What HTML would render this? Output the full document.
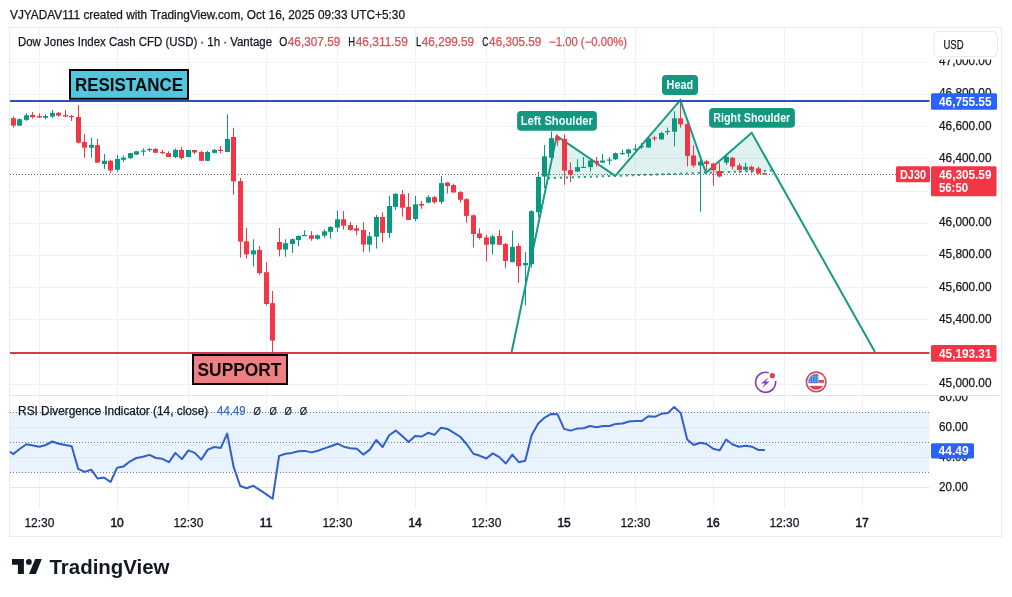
<!DOCTYPE html><html><head><meta charset="utf-8"><style>
html,body{margin:0;padding:0;background:#fff;width:1012px;height:597px;overflow:hidden}
svg{position:absolute;left:0;top:0;display:block;will-change:transform}
text{font-family:"Liberation Sans", sans-serif}

</style></head><body>
<svg width="1012" height="597" viewBox="0 0 1012 597">
<rect x="0" y="0" width="1012" height="597" fill="#fff"/>

<text x="10" y="19" font-size="12" fill="#131722" stroke="#131722" stroke-width="0.25" textLength="395" lengthAdjust="spacingAndGlyphs">VJYADAV111 created with TradingView.com, Oct 16, 2025 09:33 UTC+5:30</text>
<rect x="9.5" y="27.5" width="992" height="509" fill="none" stroke="#eaebed" stroke-width="1"/>
<rect x="10" y="412.3" width="919.5" height="60.3" fill="#e9f3fd"/>
<line x1="39.5" y1="28" x2="39.5" y2="509" stroke="#eff1f4" stroke-width="1"/>
<line x1="117.5" y1="28" x2="117.5" y2="509" stroke="#eff1f4" stroke-width="1"/>
<line x1="188.5" y1="28" x2="188.5" y2="509" stroke="#eff1f4" stroke-width="1"/>
<line x1="266.5" y1="28" x2="266.5" y2="509" stroke="#eff1f4" stroke-width="1"/>
<line x1="337.5" y1="28" x2="337.5" y2="509" stroke="#eff1f4" stroke-width="1"/>
<line x1="415.5" y1="28" x2="415.5" y2="509" stroke="#eff1f4" stroke-width="1"/>
<line x1="486.5" y1="28" x2="486.5" y2="509" stroke="#eff1f4" stroke-width="1"/>
<line x1="564.5" y1="28" x2="564.5" y2="509" stroke="#eff1f4" stroke-width="1"/>
<line x1="635.5" y1="28" x2="635.5" y2="509" stroke="#eff1f4" stroke-width="1"/>
<line x1="713.5" y1="28" x2="713.5" y2="509" stroke="#eff1f4" stroke-width="1"/>
<line x1="784.5" y1="28" x2="784.5" y2="509" stroke="#eff1f4" stroke-width="1"/>
<line x1="862.5" y1="28" x2="862.5" y2="509" stroke="#eff1f4" stroke-width="1"/>
<line x1="10" y1="384.5" x2="929.5" y2="384.5" stroke="#eff1f4" stroke-width="1"/>
<line x1="10" y1="352.5" x2="929.5" y2="352.5" stroke="#eff1f4" stroke-width="1"/>
<line x1="10" y1="319.5" x2="929.5" y2="319.5" stroke="#eff1f4" stroke-width="1"/>
<line x1="10" y1="287.5" x2="929.5" y2="287.5" stroke="#eff1f4" stroke-width="1"/>
<line x1="10" y1="255.5" x2="929.5" y2="255.5" stroke="#eff1f4" stroke-width="1"/>
<line x1="10" y1="223.5" x2="929.5" y2="223.5" stroke="#eff1f4" stroke-width="1"/>
<line x1="10" y1="191.5" x2="929.5" y2="191.5" stroke="#eff1f4" stroke-width="1"/>
<line x1="10" y1="158.5" x2="929.5" y2="158.5" stroke="#eff1f4" stroke-width="1"/>
<line x1="10" y1="126.5" x2="929.5" y2="126.5" stroke="#eff1f4" stroke-width="1"/>
<line x1="10" y1="94.5" x2="929.5" y2="94.5" stroke="#eff1f4" stroke-width="1"/>
<line x1="10" y1="62.5" x2="929.5" y2="62.5" stroke="#eff1f4" stroke-width="1"/>
<line x1="10" y1="427.5" x2="929.5" y2="427.5" stroke="#e3e8f0" stroke-width="1"/>
<line x1="10" y1="457.5" x2="929.5" y2="457.5" stroke="#e3e8f0" stroke-width="1"/>
<line x1="10" y1="487.5" x2="929.5" y2="487.5" stroke="#e3e8f0" stroke-width="1"/>
<line x1="10" y1="412.5" x2="929.5" y2="412.5" stroke="#787b86" stroke-width="1" stroke-dasharray="1 2"/>
<line x1="10" y1="442.5" x2="929.5" y2="442.5" stroke="#787b86" stroke-width="1" stroke-dasharray="1 2"/>
<line x1="10" y1="472.5" x2="929.5" y2="472.5" stroke="#787b86" stroke-width="1" stroke-dasharray="1 2"/>
<line x1="10" y1="395.5" x2="1001" y2="395.5" stroke="#e0e3eb" stroke-width="1"/>
<line x1="10" y1="174.5" x2="929.5" y2="174.5" stroke="#6b5d63" stroke-width="1" stroke-dasharray="1 2"/>
<polygon points="547.9,178.2 556.7,135.9 615.2,175.9 680.3,100.2 706.0,172.8 751.7,132.8 772.9,170.5" fill="rgba(8,153,129,0.13)"/>
<line x1="547.9" y1="178.2" x2="772.9" y2="170.5" stroke="#1a9a82" stroke-width="2" stroke-dasharray="2 4" />
<polyline points="511.4,353.2 556.7,135.9 615.2,175.9 680.3,100.2 706.0,172.8 751.7,132.8 875.0,352.0" fill="none" stroke="#1a9a82" stroke-width="2" stroke-linejoin="miter"/>
<rect x="13" y="116.4" width="1" height="11.1" fill="#f23645"/>
<rect x="11" y="118.2" width="5" height="7.4" fill="#f23645"/>
<rect x="19" y="118.5" width="1" height="7.5" fill="#089981"/>
<rect x="17" y="119.2" width="5" height="6.4" fill="#089981"/>
<rect x="26" y="113.2" width="1" height="7.7" fill="#089981"/>
<rect x="24" y="115.2" width="5" height="4.7" fill="#089981"/>
<rect x="32" y="112.1" width="1" height="6.4" fill="#f23645"/>
<rect x="30" y="114.9" width="5" height="2.2" fill="#f23645"/>
<rect x="39" y="113.2" width="1" height="4.6" fill="#f23645"/>
<rect x="37" y="116.0" width="5" height="1.5" fill="#f23645"/>
<rect x="45" y="114.2" width="1" height="5.3" fill="#089981"/>
<rect x="43" y="116.0" width="5" height="1.8" fill="#089981"/>
<rect x="52" y="110.0" width="1" height="7.8" fill="#089981"/>
<rect x="50" y="112.8" width="5" height="3.8" fill="#089981"/>
<rect x="58" y="112.0" width="1" height="4.6" fill="#f23645"/>
<rect x="56" y="112.8" width="5" height="2.8" fill="#f23645"/>
<rect x="65" y="110.0" width="1" height="6.6" fill="#f23645"/>
<rect x="63" y="115.2" width="5" height="1.4" fill="#f23645"/>
<rect x="71" y="115.0" width="1" height="6.0" fill="#f23645"/>
<rect x="69" y="116.0" width="5" height="1.2" fill="#f23645"/>
<rect x="78" y="105.0" width="1" height="38.4" fill="#f23645"/>
<rect x="76" y="117.0" width="5" height="25.7" fill="#f23645"/>
<rect x="84" y="134.2" width="1" height="23.5" fill="#f23645"/>
<rect x="82" y="142.0" width="5" height="5.7" fill="#f23645"/>
<rect x="91" y="137.7" width="1" height="20.0" fill="#089981"/>
<rect x="89" y="144.8" width="5" height="2.9" fill="#089981"/>
<rect x="97" y="139.0" width="1" height="23.6" fill="#f23645"/>
<rect x="95" y="145.1" width="5" height="17.5" fill="#f23645"/>
<rect x="104" y="154.0" width="1" height="15.0" fill="#089981"/>
<rect x="102" y="160.8" width="5" height="3.2" fill="#089981"/>
<rect x="110" y="159.8" width="1" height="13.5" fill="#f23645"/>
<rect x="108" y="160.8" width="5" height="9.7" fill="#f23645"/>
<rect x="117" y="154.8" width="1" height="17.1" fill="#089981"/>
<rect x="115" y="159.0" width="5" height="10.8" fill="#089981"/>
<rect x="123" y="155.5" width="1" height="6.5" fill="#089981"/>
<rect x="121" y="157.6" width="5" height="2.2" fill="#089981"/>
<rect x="130" y="152.8" width="1" height="6.0" fill="#089981"/>
<rect x="128" y="153.1" width="5" height="5.0" fill="#089981"/>
<rect x="136" y="151.0" width="1" height="4.0" fill="#089981"/>
<rect x="134" y="151.3" width="5" height="3.3" fill="#089981"/>
<rect x="143" y="148.3" width="1" height="7.5" fill="#089981"/>
<rect x="141" y="150.5" width="5" height="1.2" fill="#089981"/>
<rect x="149" y="148.0" width="1" height="4.0" fill="#089981"/>
<rect x="147" y="149.0" width="5" height="1.2" fill="#089981"/>
<rect x="155" y="148.0" width="1" height="4.8" fill="#f23645"/>
<rect x="153" y="149.0" width="5" height="3.8" fill="#f23645"/>
<rect x="162" y="149.8" width="1" height="4.5" fill="#f23645"/>
<rect x="160" y="152.0" width="5" height="1.2" fill="#f23645"/>
<rect x="168" y="151.3" width="1" height="5.7" fill="#f23645"/>
<rect x="166" y="153.1" width="5" height="3.9" fill="#f23645"/>
<rect x="175" y="148.6" width="1" height="9.5" fill="#089981"/>
<rect x="173" y="149.8" width="5" height="7.2" fill="#089981"/>
<rect x="181" y="147.0" width="1" height="12.6" fill="#f23645"/>
<rect x="179" y="149.8" width="5" height="8.3" fill="#f23645"/>
<rect x="188" y="150.0" width="1" height="7.5" fill="#089981"/>
<rect x="186" y="150.0" width="5" height="7.0" fill="#089981"/>
<rect x="194" y="150.0" width="1" height="4.0" fill="#f23645"/>
<rect x="192" y="150.0" width="5" height="2.5" fill="#f23645"/>
<rect x="201" y="150.5" width="1" height="10.5" fill="#f23645"/>
<rect x="199" y="152.0" width="5" height="8.8" fill="#f23645"/>
<rect x="207" y="151.0" width="1" height="10.0" fill="#089981"/>
<rect x="205" y="152.0" width="5" height="8.8" fill="#089981"/>
<rect x="214" y="149.0" width="1" height="4.5" fill="#089981"/>
<rect x="212" y="149.8" width="5" height="3.0" fill="#089981"/>
<rect x="220" y="146.0" width="1" height="7.5" fill="#f23645"/>
<rect x="218" y="149.8" width="5" height="1.2" fill="#f23645"/>
<rect x="227" y="114.3" width="1" height="37.7" fill="#089981"/>
<rect x="225" y="138.9" width="5" height="13.1" fill="#089981"/>
<rect x="233" y="127.9" width="1" height="66.8" fill="#f23645"/>
<rect x="231" y="137.0" width="5" height="44.4" fill="#f23645"/>
<rect x="240" y="178.0" width="1" height="79.5" fill="#f23645"/>
<rect x="238" y="181.1" width="5" height="60.5" fill="#f23645"/>
<rect x="246" y="228.0" width="1" height="30.3" fill="#f23645"/>
<rect x="244" y="241.3" width="5" height="13.1" fill="#f23645"/>
<rect x="253" y="239.2" width="1" height="27.4" fill="#089981"/>
<rect x="251" y="250.4" width="5" height="4.0" fill="#089981"/>
<rect x="259" y="246.2" width="1" height="28.5" fill="#f23645"/>
<rect x="257" y="250.0" width="5" height="23.1" fill="#f23645"/>
<rect x="266" y="262.2" width="1" height="43.3" fill="#f23645"/>
<rect x="264" y="272.2" width="5" height="31.8" fill="#f23645"/>
<rect x="272" y="291.0" width="1" height="61.7" fill="#f23645"/>
<rect x="270" y="303.2" width="5" height="37.4" fill="#f23645"/>
<rect x="279" y="228.0" width="1" height="28.4" fill="#f23645"/>
<rect x="277" y="242.0" width="5" height="7.6" fill="#f23645"/>
<rect x="285" y="239.2" width="1" height="17.5" fill="#089981"/>
<rect x="283" y="243.2" width="5" height="6.4" fill="#089981"/>
<rect x="292" y="238.4" width="1" height="14.4" fill="#089981"/>
<rect x="290" y="239.2" width="5" height="4.8" fill="#089981"/>
<rect x="298" y="235.3" width="1" height="11.1" fill="#089981"/>
<rect x="296" y="236.0" width="5" height="4.0" fill="#089981"/>
<rect x="304" y="230.2" width="1" height="5.4" fill="#089981"/>
<rect x="302" y="235.0" width="5" height="1.2" fill="#089981"/>
<rect x="311" y="231.3" width="1" height="9.5" fill="#f23645"/>
<rect x="309" y="235.3" width="5" height="3.5" fill="#f23645"/>
<rect x="317" y="234.5" width="1" height="5.2" fill="#089981"/>
<rect x="315" y="235.3" width="5" height="3.5" fill="#089981"/>
<rect x="324" y="229.2" width="1" height="8.4" fill="#089981"/>
<rect x="322" y="231.3" width="5" height="4.3" fill="#089981"/>
<rect x="330" y="226.0" width="1" height="12.8" fill="#089981"/>
<rect x="328" y="227.0" width="5" height="4.8" fill="#089981"/>
<rect x="337" y="210.6" width="1" height="21.2" fill="#089981"/>
<rect x="335" y="219.3" width="5" height="8.3" fill="#089981"/>
<rect x="343" y="211.0" width="1" height="18.6" fill="#f23645"/>
<rect x="341" y="219.3" width="5" height="6.4" fill="#f23645"/>
<rect x="350" y="222.0" width="1" height="8.7" fill="#f23645"/>
<rect x="348" y="225.0" width="5" height="5.0" fill="#f23645"/>
<rect x="356" y="225.0" width="1" height="10.4" fill="#f23645"/>
<rect x="354" y="228.3" width="5" height="2.4" fill="#f23645"/>
<rect x="363" y="222.3" width="1" height="29.8" fill="#f23645"/>
<rect x="361" y="230.0" width="5" height="14.6" fill="#f23645"/>
<rect x="369" y="232.0" width="1" height="19.8" fill="#089981"/>
<rect x="367" y="236.2" width="5" height="8.4" fill="#089981"/>
<rect x="376" y="215.0" width="1" height="33.5" fill="#089981"/>
<rect x="374" y="217.0" width="5" height="19.7" fill="#089981"/>
<rect x="382" y="212.3" width="1" height="30.1" fill="#f23645"/>
<rect x="380" y="217.0" width="5" height="15.9" fill="#f23645"/>
<rect x="389" y="196.0" width="1" height="41.9" fill="#089981"/>
<rect x="387" y="206.0" width="5" height="26.9" fill="#089981"/>
<rect x="395" y="193.2" width="1" height="16.8" fill="#089981"/>
<rect x="393" y="193.8" width="5" height="13.1" fill="#089981"/>
<rect x="402" y="190.1" width="1" height="26.5" fill="#f23645"/>
<rect x="400" y="194.3" width="5" height="13.4" fill="#f23645"/>
<rect x="408" y="193.2" width="1" height="26.8" fill="#f23645"/>
<rect x="406" y="206.9" width="5" height="13.1" fill="#f23645"/>
<rect x="415" y="196.0" width="1" height="25.1" fill="#089981"/>
<rect x="413" y="204.4" width="5" height="14.6" fill="#089981"/>
<rect x="421" y="201.0" width="1" height="7.9" fill="#f23645"/>
<rect x="419" y="203.9" width="5" height="1.7" fill="#f23645"/>
<rect x="428" y="195.2" width="1" height="8.0" fill="#089981"/>
<rect x="426" y="197.2" width="5" height="5.5" fill="#089981"/>
<rect x="434" y="196.0" width="1" height="7.9" fill="#f23645"/>
<rect x="432" y="197.2" width="5" height="5.0" fill="#f23645"/>
<rect x="441" y="175.9" width="1" height="28.0" fill="#089981"/>
<rect x="439" y="183.1" width="5" height="18.8" fill="#089981"/>
<rect x="447" y="181.8" width="1" height="11.8" fill="#f23645"/>
<rect x="445" y="182.6" width="5" height="3.4" fill="#f23645"/>
<rect x="453" y="183.7" width="1" height="8.8" fill="#f23645"/>
<rect x="451" y="185.1" width="5" height="7.4" fill="#f23645"/>
<rect x="460" y="191.1" width="1" height="11.5" fill="#f23645"/>
<rect x="458" y="192.1" width="5" height="7.7" fill="#f23645"/>
<rect x="466" y="198.2" width="1" height="24.5" fill="#f23645"/>
<rect x="464" y="199.2" width="5" height="16.7" fill="#f23645"/>
<rect x="473" y="214.3" width="1" height="33.2" fill="#f23645"/>
<rect x="471" y="215.3" width="5" height="18.7" fill="#f23645"/>
<rect x="479" y="228.4" width="1" height="11.0" fill="#f23645"/>
<rect x="477" y="233.4" width="5" height="4.6" fill="#f23645"/>
<rect x="486" y="234.8" width="1" height="26.7" fill="#f23645"/>
<rect x="484" y="237.4" width="5" height="7.4" fill="#f23645"/>
<rect x="492" y="234.8" width="1" height="19.7" fill="#089981"/>
<rect x="490" y="236.4" width="5" height="8.0" fill="#089981"/>
<rect x="499" y="230.0" width="1" height="14.8" fill="#f23645"/>
<rect x="497" y="236.0" width="5" height="8.8" fill="#f23645"/>
<rect x="505" y="242.8" width="1" height="25.4" fill="#f23645"/>
<rect x="503" y="244.0" width="5" height="17.0" fill="#f23645"/>
<rect x="512" y="230.8" width="1" height="31.4" fill="#089981"/>
<rect x="510" y="246.9" width="5" height="15.3" fill="#089981"/>
<rect x="518" y="243.4" width="1" height="39.6" fill="#f23645"/>
<rect x="516" y="246.0" width="5" height="20.2" fill="#f23645"/>
<rect x="525" y="251.8" width="1" height="53.4" fill="#089981"/>
<rect x="523" y="263.0" width="5" height="2.3" fill="#089981"/>
<rect x="531" y="210.2" width="1" height="57.4" fill="#089981"/>
<rect x="529" y="211.2" width="5" height="53.0" fill="#089981"/>
<rect x="538" y="172.0" width="1" height="45.3" fill="#089981"/>
<rect x="536" y="177.0" width="5" height="35.3" fill="#089981"/>
<rect x="544" y="145.0" width="1" height="43.0" fill="#089981"/>
<rect x="542" y="156.3" width="5" height="20.3" fill="#089981"/>
<rect x="551" y="131.4" width="1" height="27.1" fill="#089981"/>
<rect x="549" y="138.2" width="5" height="19.6" fill="#089981"/>
<rect x="557" y="134.4" width="1" height="11.3" fill="#f23645"/>
<rect x="555" y="136.7" width="5" height="3.7" fill="#f23645"/>
<rect x="564" y="134.4" width="1" height="50.5" fill="#f23645"/>
<rect x="562" y="138.9" width="5" height="31.7" fill="#f23645"/>
<rect x="570" y="162.3" width="1" height="19.6" fill="#f23645"/>
<rect x="568" y="170.1" width="5" height="4.3" fill="#f23645"/>
<rect x="577" y="159.3" width="1" height="12.8" fill="#089981"/>
<rect x="575" y="167.1" width="5" height="4.5" fill="#089981"/>
<rect x="583" y="157.0" width="1" height="10.6" fill="#089981"/>
<rect x="581" y="166.8" width="5" height="1.2" fill="#089981"/>
<rect x="590" y="160.0" width="1" height="11.3" fill="#089981"/>
<rect x="588" y="160.5" width="5" height="6.6" fill="#089981"/>
<rect x="596" y="157.0" width="1" height="9.8" fill="#f23645"/>
<rect x="594" y="160.8" width="5" height="2.2" fill="#f23645"/>
<rect x="602" y="154.0" width="1" height="9.0" fill="#089981"/>
<rect x="600" y="160.5" width="5" height="2.1" fill="#089981"/>
<rect x="609" y="157.0" width="1" height="8.0" fill="#089981"/>
<rect x="607" y="159.5" width="5" height="1.2" fill="#089981"/>
<rect x="615" y="152.5" width="1" height="7.5" fill="#089981"/>
<rect x="613" y="153.2" width="5" height="6.1" fill="#089981"/>
<rect x="622" y="149.5" width="1" height="5.2" fill="#089981"/>
<rect x="620" y="153.0" width="5" height="1.2" fill="#089981"/>
<rect x="628" y="148.7" width="1" height="8.3" fill="#089981"/>
<rect x="626" y="149.5" width="5" height="4.0" fill="#089981"/>
<rect x="635" y="144.5" width="1" height="6.5" fill="#089981"/>
<rect x="633" y="148.7" width="5" height="1.3" fill="#089981"/>
<rect x="641" y="143.0" width="1" height="6.0" fill="#089981"/>
<rect x="639" y="146.0" width="5" height="1.2" fill="#089981"/>
<rect x="648" y="137.7" width="1" height="10.0" fill="#089981"/>
<rect x="646" y="138.4" width="5" height="9.1" fill="#089981"/>
<rect x="654" y="135.7" width="1" height="5.3" fill="#f23645"/>
<rect x="652" y="137.5" width="5" height="1.2" fill="#f23645"/>
<rect x="661" y="131.7" width="1" height="8.0" fill="#089981"/>
<rect x="659" y="133.0" width="5" height="6.4" fill="#089981"/>
<rect x="667" y="127.6" width="1" height="7.4" fill="#089981"/>
<rect x="665" y="131.0" width="5" height="1.2" fill="#089981"/>
<rect x="674" y="111.3" width="1" height="35.1" fill="#089981"/>
<rect x="672" y="118.3" width="5" height="13.4" fill="#089981"/>
<rect x="680" y="102.2" width="1" height="25.4" fill="#f23645"/>
<rect x="678" y="118.3" width="5" height="6.0" fill="#f23645"/>
<rect x="687" y="123.1" width="1" height="43.4" fill="#f23645"/>
<rect x="685" y="124.1" width="5" height="31.8" fill="#f23645"/>
<rect x="693" y="145.3" width="1" height="22.1" fill="#f23645"/>
<rect x="691" y="155.5" width="5" height="10.0" fill="#f23645"/>
<rect x="700" y="159.7" width="1" height="52.1" fill="#089981"/>
<rect x="698" y="161.7" width="5" height="3.8" fill="#089981"/>
<rect x="706" y="159.7" width="1" height="10.6" fill="#f23645"/>
<rect x="704" y="161.3" width="5" height="2.7" fill="#f23645"/>
<rect x="713" y="162.6" width="1" height="23.1" fill="#f23645"/>
<rect x="711" y="163.6" width="5" height="6.7" fill="#f23645"/>
<rect x="719" y="162.6" width="1" height="14.9" fill="#f23645"/>
<rect x="717" y="170.9" width="5" height="5.6" fill="#f23645"/>
<rect x="726" y="154.0" width="1" height="11.0" fill="#089981"/>
<rect x="724" y="156.8" width="5" height="5.8" fill="#089981"/>
<rect x="732" y="156.8" width="1" height="12.6" fill="#f23645"/>
<rect x="730" y="157.8" width="5" height="8.7" fill="#f23645"/>
<rect x="739" y="163.2" width="1" height="9.6" fill="#f23645"/>
<rect x="737" y="165.5" width="5" height="4.5" fill="#f23645"/>
<rect x="745" y="162.7" width="1" height="8.8" fill="#089981"/>
<rect x="743" y="166.8" width="5" height="2.9" fill="#089981"/>
<rect x="751" y="165.5" width="1" height="7.7" fill="#f23645"/>
<rect x="749" y="166.8" width="5" height="3.3" fill="#f23645"/>
<rect x="758" y="166.5" width="1" height="7.7" fill="#f23645"/>
<rect x="756" y="168.4" width="5" height="5.2" fill="#f23645"/>
<rect x="764" y="172.6" width="1" height="1.9" fill="#f23645"/>
<rect x="762" y="173.2" width="5" height="1.2" fill="#f23645"/>
<rect x="70" y="70" width="118" height="28.8" fill="#52c6dc" stroke="#000" stroke-width="2"/>
<text x="75" y="91" font-size="19" font-weight="bold" fill="#0a0a0a" textLength="108" lengthAdjust="spacingAndGlyphs">RESISTANCE</text>
<rect x="193" y="355" width="94" height="29" fill="#f07f84" stroke="#000" stroke-width="2"/>
<text x="197.5" y="375.8" font-size="19" font-weight="bold" fill="#0a0a0a" textLength="84" lengthAdjust="spacingAndGlyphs">SUPPORT</text>
<line x1="10" y1="100.9" x2="929.5" y2="100.9" stroke="#2a50c4" stroke-width="2"/>
<line x1="10" y1="352.9" x2="929.5" y2="352.9" stroke="#d7394a" stroke-width="2"/>
<rect x="517.1" y="110.9" width="79.79999999999995" height="19.799999999999983" rx="4" fill="#13977f"/>
<text x="520.8" y="124.9" font-size="12.5" font-weight="bold" fill="#f4fffd" textLength="72" lengthAdjust="spacingAndGlyphs">Left Shoulder</text>
<rect x="662" y="75" width="36" height="19.900000000000006" rx="4" fill="#13977f"/>
<text x="666.6" y="88.9" font-size="12.5" font-weight="bold" fill="#f4fffd" textLength="26.6" lengthAdjust="spacingAndGlyphs">Head</text>
<rect x="709.1" y="108.1" width="85.79999999999995" height="19.60000000000001" rx="4" fill="#13977f"/>
<text x="713.3" y="121.8" font-size="12.5" font-weight="bold" fill="#f4fffd" textLength="77" lengthAdjust="spacingAndGlyphs">Right Shoulder</text>
<polyline points="10,451.7 13.4,454.1 19.9,448.7 26.4,444.2 32.9,445.4 39.4,446.7 45.8,445.0 52.3,441.5 58.8,443.7 65.3,444.9 71.7,446.2 78.2,468.9 84.7,471.9 91.2,469.7 97.7,478.6 104.1,477.6 110.6,482.0 117.1,467.7 123.6,466.4 130.1,461.3 136.5,458.0 143.0,456.8 149.5,454.9 156.0,458.0 162.4,458.8 168.9,462.2 175.4,452.9 181.9,459.1 188.4,450.4 194.8,452.9 201.3,459.6 207.8,449.6 214.3,447.0 220.8,447.9 227.2,433.6 233.7,467.2 240.2,486.0 246.7,488.2 253.1,485.7 259.6,489.9 266.1,494.1 272.6,498.8 279.1,455.9 285.5,453.8 292.0,452.9 298.5,451.2 305.0,450.9 311.5,452.4 317.9,450.7 324.4,448.4 330.9,446.2 337.4,443.7 343.8,446.7 350.3,448.2 356.8,448.7 363.3,454.6 369.8,449.6 376.2,440.0 382.7,447.0 389.2,435.3 395.7,430.6 402.2,436.1 408.6,442.0 415.1,436.1 421.6,436.6 428.1,432.8 434.5,434.9 441.0,427.7 447.5,428.9 454.0,432.8 460.5,437.0 466.9,444.5 473.4,453.8 479.9,455.8 486.4,458.5 492.8,453.4 499.3,457.1 505.8,463.5 512.3,454.6 518.8,462.2 525.2,460.8 531.7,434.9 538.2,423.5 544.7,417.6 551.2,413.9 557.6,414.3 564.1,428.9 570.6,430.6 577.1,428.6 583.5,428.2 590.0,426.0 596.5,427.2 603.0,426.0 609.5,426.0 615.9,423.9 622.4,423.5 628.9,421.5 635.4,421.0 641.9,421.0 648.3,416.3 654.8,416.8 661.3,413.8 667.8,413.1 674.2,407.1 680.7,413.1 687.2,439.5 693.7,445.0 700.2,442.8 706.6,444.0 713.1,448.7 719.6,450.4 726.1,439.5 732.6,444.5 739.0,446.7 745.5,445.7 752.0,446.7 758.5,450.1 764.9,450.1" fill="none" stroke="#3160cb" stroke-width="2" stroke-linejoin="round"/>
<text y="46" font-size="12" fill="#131722" stroke="#131722" stroke-width="0.25"><tspan x="18" textLength="254" lengthAdjust="spacingAndGlyphs">Dow Jones Index Cash CFD (USD) · 1h · Vantage</tspan></text>
<text y="46" font-size="12" fill="#131722" stroke="#131722" stroke-width="0.25" x="279.2" textLength="8.0" lengthAdjust="spacingAndGlyphs">O</text>
<text y="46" font-size="12" fill="#e04b57" stroke="#e04b57" stroke-width="0.25" x="287.8" textLength="52.5" lengthAdjust="spacingAndGlyphs">46,307.59</text>
<text y="46" font-size="12" fill="#131722" stroke="#131722" stroke-width="0.25" x="348.3" textLength="6.8" lengthAdjust="spacingAndGlyphs">H</text>
<text y="46" font-size="12" fill="#e04b57" stroke="#e04b57" stroke-width="0.25" x="355.7" textLength="52.2" lengthAdjust="spacingAndGlyphs">46,311.59</text>
<text y="46" font-size="12" fill="#131722" stroke="#131722" stroke-width="0.25" x="415.9" textLength="5.3" lengthAdjust="spacingAndGlyphs">L</text>
<text y="46" font-size="12" fill="#e04b57" stroke="#e04b57" stroke-width="0.25" x="421.8" textLength="52.3" lengthAdjust="spacingAndGlyphs">46,299.59</text>
<text y="46" font-size="12" fill="#131722" stroke="#131722" stroke-width="0.25" x="482.3" textLength="6.2" lengthAdjust="spacingAndGlyphs">C</text>
<text y="46" font-size="12" fill="#e04b57" stroke="#e04b57" stroke-width="0.25" x="489.1" textLength="52.3" lengthAdjust="spacingAndGlyphs">46,305.59</text>
<text y="46" font-size="12" fill="#e04b57" stroke="#e04b57" stroke-width="0.25" x="549.1" textLength="78" lengthAdjust="spacingAndGlyphs">−1.00 (−0.00%)</text>
<text y="414.8" font-size="12" fill="#131722" stroke="#131722" stroke-width="0.25" x="18.1" textLength="190.2" lengthAdjust="spacingAndGlyphs">RSI Divergence Indicator (14, close)</text>
<text y="414.8" font-size="12" fill="#3d66c8" stroke="#3d66c8" stroke-width="0.25" x="217.1" textLength="28.5" lengthAdjust="spacingAndGlyphs">44.49</text>
<text y="414.8" font-size="11.5" fill="#131722" stroke="#131722" stroke-width="0.15" x="253.5" textLength="7.4" lengthAdjust="spacingAndGlyphs">Ø</text>
<text y="414.8" font-size="11.5" fill="#131722" stroke="#131722" stroke-width="0.15" x="269.5" textLength="7.4" lengthAdjust="spacingAndGlyphs">Ø</text>
<text y="414.8" font-size="11.5" fill="#131722" stroke="#131722" stroke-width="0.15" x="284.6" textLength="7.4" lengthAdjust="spacingAndGlyphs">Ø</text>
<text y="414.8" font-size="11.5" fill="#131722" stroke="#131722" stroke-width="0.15" x="299.7" textLength="7.4" lengthAdjust="spacingAndGlyphs">Ø</text>
<text x="939" y="97.4" font-size="12" fill="#131722" stroke="#131722" stroke-width="0.25" textLength="52.5" lengthAdjust="spacingAndGlyphs">46,800.00</text>
<text x="939" y="129.6" font-size="12" fill="#131722" stroke="#131722" stroke-width="0.25" textLength="52.5" lengthAdjust="spacingAndGlyphs">46,600.00</text>
<text x="939" y="161.8" font-size="12" fill="#131722" stroke="#131722" stroke-width="0.25" textLength="52.5" lengthAdjust="spacingAndGlyphs">46,400.00</text>
<text x="939" y="226.2" font-size="12" fill="#131722" stroke="#131722" stroke-width="0.25" textLength="52.5" lengthAdjust="spacingAndGlyphs">46,000.00</text>
<text x="939" y="258.4" font-size="12" fill="#131722" stroke="#131722" stroke-width="0.25" textLength="52.5" lengthAdjust="spacingAndGlyphs">45,800.00</text>
<text x="939" y="290.6" font-size="12" fill="#131722" stroke="#131722" stroke-width="0.25" textLength="52.5" lengthAdjust="spacingAndGlyphs">45,600.00</text>
<text x="939" y="322.8" font-size="12" fill="#131722" stroke="#131722" stroke-width="0.25" textLength="52.5" lengthAdjust="spacingAndGlyphs">45,400.00</text>
<text x="939" y="387.2" font-size="12" fill="#131722" stroke="#131722" stroke-width="0.25" textLength="52.5" lengthAdjust="spacingAndGlyphs">45,000.00</text>
<clipPath id="rsiax"><rect x="930" y="396" width="71" height="112"/></clipPath><g clip-path="url(#rsiax)">
<text x="939" y="400.5" font-size="12" fill="#131722" stroke="#131722" stroke-width="0.25" textLength="29" lengthAdjust="spacingAndGlyphs">80.00</text>
<text x="939" y="430.6" font-size="12" fill="#131722" stroke="#131722" stroke-width="0.25" textLength="29" lengthAdjust="spacingAndGlyphs">60.00</text>
<text x="939" y="460.8" font-size="12" fill="#131722" stroke="#131722" stroke-width="0.25" textLength="29" lengthAdjust="spacingAndGlyphs">40.00</text>
<text x="939" y="490.9" font-size="12" fill="#131722" stroke="#131722" stroke-width="0.25" textLength="29" lengthAdjust="spacingAndGlyphs">20.00</text>
</g>
<line x1="10" y1="395.5" x2="1001" y2="395.5" stroke="#e0e3eb" stroke-width="1"/>
<text x="939" y="65.2" font-size="12" fill="#131722" stroke="#131722" stroke-width="0.25" textLength="52.5" lengthAdjust="spacingAndGlyphs">47,000.00</text>
<rect x="930" y="28" width="71" height="31.5" fill="#fff"/>
<rect x="934" y="31.5" width="63.5" height="25" rx="4" fill="#fff" stroke="#e8eaef" stroke-width="1"/>
<text x="943.5" y="48.5" font-size="12" fill="#131722" stroke="#131722" stroke-width="0.25" textLength="20" lengthAdjust="spacingAndGlyphs">USD</text>
<rect x="931" y="93.2" width="66" height="16.6" rx="1.5" fill="#2962ff"/>
<text x="939" y="105.8" font-size="12.5" font-weight="bold" fill="#fff" textLength="52.5" lengthAdjust="spacingAndGlyphs">46,755.55</text>
<rect x="896" y="166.3" width="34" height="16" rx="1.5" fill="#f23645"/>
<text x="900" y="178.7" font-size="12.5" font-weight="bold" fill="#fff" textLength="26" lengthAdjust="spacingAndGlyphs">DJ30</text>
<rect x="931" y="166.3" width="65.5" height="30" rx="1.5" fill="#f23645"/>
<text x="939" y="178.7" font-size="12.5" font-weight="bold" fill="#fff" textLength="52.5" lengthAdjust="spacingAndGlyphs">46,305.59</text>
<text x="939" y="192" font-size="12.5" font-weight="bold" fill="#fff" textLength="29" lengthAdjust="spacingAndGlyphs">56:50</text>
<rect x="931" y="345.1" width="65.6" height="16.6" rx="1.5" fill="#f23645"/>
<text x="939" y="357.7" font-size="12.5" font-weight="bold" fill="#fff" textLength="52.5" lengthAdjust="spacingAndGlyphs">45,193.31</text>
<rect x="931" y="443.2" width="43" height="15.2" rx="1.5" fill="#2962ff"/>
<text x="938.6" y="455.2" font-size="12.5" font-weight="bold" fill="#fff" textLength="30" lengthAdjust="spacingAndGlyphs">44.49</text>
<text x="39.4" y="527" font-size="12" fill="#131722" stroke="#131722" stroke-width="0.25" text-anchor="middle">12:30</text>
<text x="117.1" y="527" font-size="12" fill="#131722" stroke="#131722" stroke-width="0.55" text-anchor="middle">10</text>
<text x="188.4" y="527" font-size="12" fill="#131722" stroke="#131722" stroke-width="0.25" text-anchor="middle">12:30</text>
<text x="266.1" y="527" font-size="12" fill="#131722" stroke="#131722" stroke-width="0.55" text-anchor="middle">11</text>
<text x="337.4" y="527" font-size="12" fill="#131722" stroke="#131722" stroke-width="0.25" text-anchor="middle">12:30</text>
<text x="415.1" y="527" font-size="12" fill="#131722" stroke="#131722" stroke-width="0.55" text-anchor="middle">14</text>
<text x="486.4" y="527" font-size="12" fill="#131722" stroke="#131722" stroke-width="0.25" text-anchor="middle">12:30</text>
<text x="564.1" y="527" font-size="12" fill="#131722" stroke="#131722" stroke-width="0.55" text-anchor="middle">15</text>
<text x="635.4" y="527" font-size="12" fill="#131722" stroke="#131722" stroke-width="0.25" text-anchor="middle">12:30</text>
<text x="713.1" y="527" font-size="12" fill="#131722" stroke="#131722" stroke-width="0.55" text-anchor="middle">16</text>
<text x="784.4" y="527" font-size="12" fill="#131722" stroke="#131722" stroke-width="0.25" text-anchor="middle">12:30</text>
<text x="862.1" y="527" font-size="12" fill="#131722" stroke="#131722" stroke-width="0.55" text-anchor="middle">17</text>
<g transform="translate(765.6,382.3)"><path d="M 3.09 -9.51 A 10 10 0 1 0 9.90 -1.39" fill="none" stroke="#8b3fb6" stroke-width="1.7"/><circle cx="6.8" cy="-6.6" r="2.6" fill="#e2404c"/><path d="M 3 -5 L -4.6 1.3 L -0.6 1.3 L -3.2 5.6 L 4 -0.8 L 0.2 -0.8 Z" fill="#8b3fb6"/></g>
<g transform="translate(816.2,381.9)"><circle r="9.8" fill="#fff" stroke="#d64a58" stroke-width="1.6"/><clipPath id="fc"><circle r="7.9"/></clipPath><g clip-path="url(#fc)"><rect x="2.2" y="-1.9" width="7" height="2.8" fill="#e0444f"/><rect x="-9" y="4" width="18" height="5" fill="#e0444f"/><rect x="-9" y="-9" width="11.2" height="10.3" fill="#3c7fe0"/><circle cx="-6.0" cy="-5.2" r="0.55" fill="#dfeaff"/><circle cx="-6.0" cy="-2.9" r="0.55" fill="#dfeaff"/><circle cx="-6.0" cy="-0.6" r="0.55" fill="#dfeaff"/><circle cx="-3.6" cy="-5.2" r="0.55" fill="#dfeaff"/><circle cx="-3.6" cy="-2.9" r="0.55" fill="#dfeaff"/><circle cx="-3.6" cy="-0.6" r="0.55" fill="#dfeaff"/><circle cx="-1.2" cy="-5.2" r="0.55" fill="#dfeaff"/><circle cx="-1.2" cy="-2.9" r="0.55" fill="#dfeaff"/><circle cx="-1.2" cy="-0.6" r="0.55" fill="#dfeaff"/><circle cx="1.2" cy="-5.2" r="0.55" fill="#dfeaff"/><circle cx="1.2" cy="-2.9" r="0.55" fill="#dfeaff"/><circle cx="1.2" cy="-0.6" r="0.55" fill="#dfeaff"/></g></g>
<g fill="#131722"><path d="M12 558.9 H23.9 V574 H17.9 V564.7 H12 Z"/><circle cx="28.9" cy="561.9" r="2.9"/><path d="M35.2 558.9 H41.8 L35.8 574 H29 Z"/></g>
<text x="49.5" y="573.8" font-size="20" font-weight="bold" fill="#131722" textLength="120" lengthAdjust="spacingAndGlyphs">TradingView</text>
</svg></body></html>
